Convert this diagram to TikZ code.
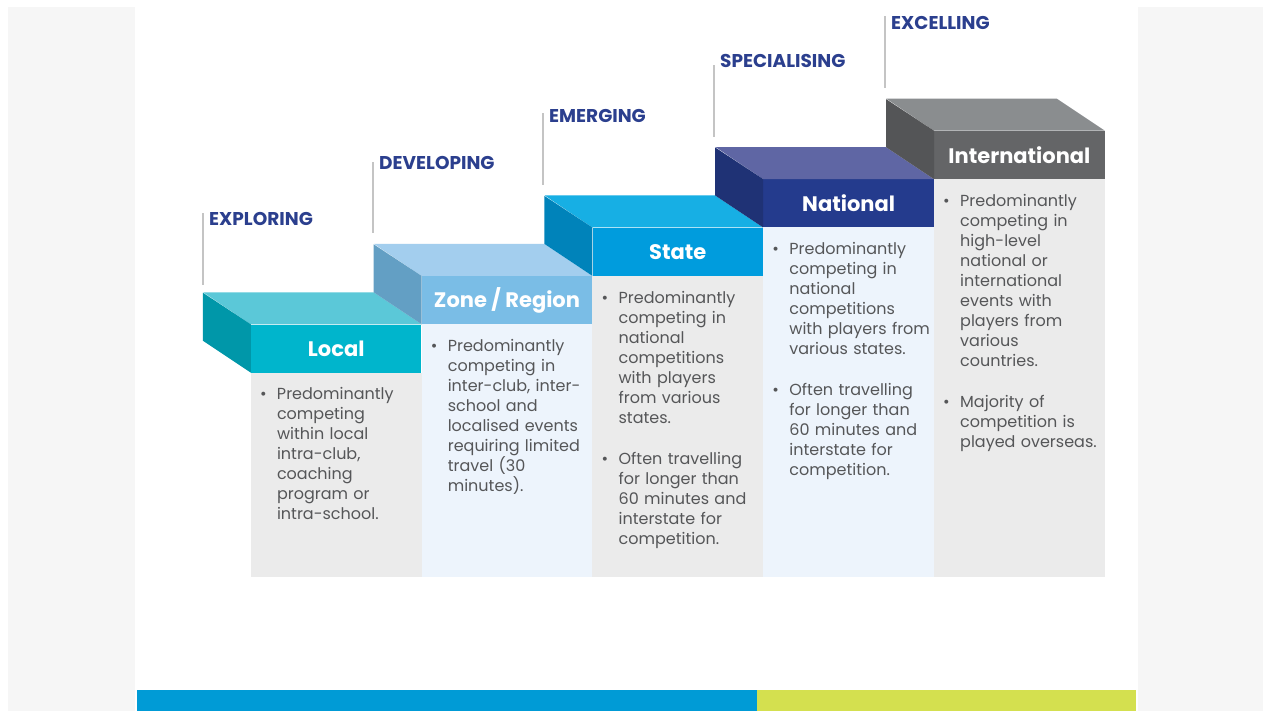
\documentclass[tikz,border=0pt]{standalone}
\usepackage{fontspec}
\setmainfont{Poppins}
\usetikzlibrary{positioning}

% step colours: front, top and side faces
\definecolor{localfront}{HTML}{00B5CC}
\definecolor{localtop}{HTML}{5BC8D8}
\definecolor{localside}{HTML}{0097A9}
\definecolor{zonefront}{HTML}{7ABDE6}
\definecolor{zonetop}{HTML}{A3CEEE}
\definecolor{zoneside}{HTML}{639FC4}
\definecolor{statefront}{HTML}{009CDD}
\definecolor{statetop}{HTML}{17AFE4}
\definecolor{stateside}{HTML}{0083BA}
\definecolor{natfront}{HTML}{243B8D}
\definecolor{nattop}{HTML}{5F66A4}
\definecolor{natside}{HTML}{1F3275}
\definecolor{intfront}{HTML}{646567}
\definecolor{inttop}{HTML}{8A8D8F}
\definecolor{intside}{HTML}{545557}
% text and panels
\definecolor{headblue}{HTML}{2B3F8E}
\definecolor{bodygray}{HTML}{555658}
\definecolor{colgray}{HTML}{EBEBEB}
\definecolor{colblue}{HTML}{EDF4FC}
\definecolor{pagegray}{HTML}{F6F6F6}
\definecolor{guidegray}{HTML}{C4C4C4}
\definecolor{barblue}{HTML}{009BD6}
\definecolor{bargreen}{HTML}{D4E04F}

% bullet with the following lines indented
\newcommand\bpt{\par\leftskip=17pt\noindent\llap{\makebox[17pt][l]{\textbullet}}}

\tikzset{
  front/.style={minimum width=170.4, minimum height=48, inner sep=0,
    text=white, font=\bfseries\fontsize{21}{24}\selectfont},
  body/.style={anchor=north west, inner sep=0, text width=158, align=left,
    text=bodygray, font=\fontsize{16}{20}\selectfont},
  stage/.style={anchor=north west, inner sep=0, text=headblue,
    font=\bfseries\fontsize{18.5}{20}\selectfont},
  guide/.style={guidegray, line width=1.2pt}
}

\begin{document}
\begin{tikzpicture}[x=1pt, y=-1pt]
  % page and side margins
  \fill[white] (0,0) rectangle (1263,711);
  \fill[pagegray] (8,7) rectangle (135,711);
  \fill[pagegray] (1138,7) rectangle (1263,711);
  \useasboundingbox (0,0) rectangle (1263,711);
  \coordinate (base) at (0,577);

  % front faces of the steps
  \node[front, fill=localfront] (local) at (336.2,348.5) {Local};
  \node[front, fill=zonefront, above right=0pt of local] (zone) {Zone / Region};
  \node[front, fill=statefront, above right=0pt of zone] (state) {State};
  \node[front, fill=natfront, above right=0pt of state] (national) {National};
  \node[front, fill=intfront, above right=0pt of national] (international) {International};

  % top and side faces
  \foreach \s/\c in {local/local, zone/zone, state/state, national/nat, international/int} {
    \fill[\c top] (\s.north west) -- (\s.north east) -- ++(-48,-32) -- ++(-170.4,0) -- cycle;
    \fill[\c side] (\s.north west) -- (\s.south west) -- ++(-48,-32) -- ++(0,-48) -- cycle;
  }

  % columns under the steps
  \fill[colgray] (local.south west) rectangle (local.south east |- base);
  \fill[colblue] (zone.south west) rectangle (zone.south east |- base);
  \fill[colgray] (state.south west) rectangle (state.south east |- base);
  \fill[colblue] (national.south west) rectangle (national.south east |- base);
  \fill[colgray] (international.south west) rectangle (international.south east |- base);

  % stage names with their guide lines
  \draw[guide] (203,285) -- (203,213);
  \node[stage] (exploring) at (209,212) {EXPLORING};
  \draw[guide] (373,233) -- (373,162);
  \node[stage] (developing) at (379,156) {DEVELOPING};
  \draw[guide] (543,185) -- (543,113);
  \node[stage] (emerging) at (549,109) {EMERGING};
  \draw[guide] (714,137) -- (714,65);
  \node[stage] (specialising) at (720,54) {SPECIALISING};
  \draw[guide] (885,88) -- (885,16);
  \node[stage] (excelling) at (891,16) {EXCELLING};

  % descriptions
  \node[body, below right=7pt and 9pt of local.south west] (localtext) {%
    \bpt Predominantly\\ competing\\ within local\\ intra-club,\\ coaching\\ program or\\ intra-school.\par};
  \node[body, below right=7pt and 9pt of zone.south west] (zonetext) {%
    \bpt Predominantly\\ competing in\\ inter-club, inter-\\ school and\\ localised events\\ requiring limited\\ travel (30\\ minutes).\par};
  \node[body, below right=7pt and 9pt of state.south west] (statetext) {%
    \bpt Predominantly\\ competing in\\ national\\ competitions\\ with players\\ from various\\ states.
    \par\vspace{21pt}
    \bpt Often travelling\\ for longer than\\ 60 minutes and\\ interstate for\\ competition.\par};
  \node[body, below right=7pt and 9pt of national.south west] (nattext) {%
    \bpt Predominantly\\ competing in\\ national\\ competitions\\ with players from\\ various states.
    \par\vspace{21pt}
    \bpt Often travelling\\ for longer than\\ 60 minutes and\\ interstate for\\ competition.\par};
  \node[body, below right=7pt and 9pt of international.south west] (inttext) {%
    \bpt Predominantly\\ competing in\\ high-level\\ national or\\ international\\ events with\\ players from\\ various\\ countries.
    \par\vspace{21pt}
    \bpt Majority of\\ competition is\\ played overseas.\par};

  % footer bar
  \fill[barblue] (137,690) rectangle (757,711);
  \fill[bargreen] (757,690) rectangle (1136,711);
\end{tikzpicture}
\end{document}
